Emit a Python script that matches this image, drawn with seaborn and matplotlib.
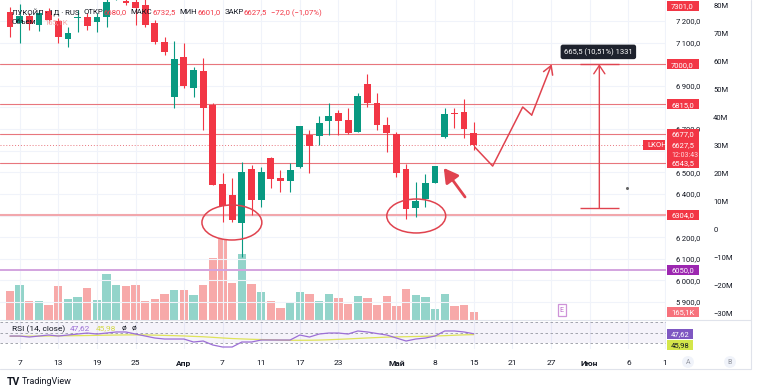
import matplotlib
matplotlib.use("Agg")
import matplotlib.pyplot as plt
from matplotlib.patches import Ellipse, Rectangle
from matplotlib.lines import Line2D
from matplotlib.transforms import IdentityTransform
import numpy as np
import pandas as pd
import seaborn as sns

# daily bars, 6 Mar .. 15 May
opens = [7242, 7191, 7223, 7181.5, 7246, 7200, 7117, 7212, 7218.5, 7195,
         7218.5, 7305, 7292, 7288, 7274, 7191, 7103, 6848.5, 7033.5, 6890,
         6969, 6811.5, 6446, 6395, 6266, 6515.5, 6372, 6566.5, 6474, 6460,
         6525, 6673, 6668, 6737.5, 6774.5, 6742, 6687, 6909, 6821, 6719,
         6677, 6515.5, 6335, 6377, 6451, 6663.5, 6774.5, 6779, 6680]
highs = [7265, 7280, 7237, 7251, 7260, 7214, 7172, 7251, 7237, 7237,
         7300, 7360, 7310, 7305, 7300, 7205, 7126, 7107.5, 7098, 6987,
         7029, 6821, 6497, 6474, 6548, 6534, 6525, 6571, 6511, 6543,
         6714, 6696, 6761, 6821, 6788.5, 6798, 6867, 6955, 6867, 6756,
         6687, 6539, 6455, 6492.5, 6529, 6798, 6798, 6839, 6732.5]
lows = [7126, 7098, 7158, 7154, 7191, 7098, 7080, 7149, 7158, 7149,
        7172, 7299, 7274, 7181.5, 7172, 7094, 7043, 6798, 6890, 6848.5,
        6696, 6441.5, 6270, 6270, 6108, 6303, 6340, 6428, 6409, 6409,
        6520, 6497, 6626.5, 6673, 6673, 6677, 6687, 6802, 6696, 6594,
        6478.5, 6284, 6293, 6340, 6451, 6659, 6705, 6659, 6601]
closes = [7172, 7223, 7186, 7237, 7205, 7126, 7144.5, 7218.5, 7177, 7218.5,
          7288, 7345, 7283, 7260, 7181.5, 7103, 7057, 7024, 6899, 6973,
          6798, 6441.5, 6344, 6280, 6502, 6372, 6502, 6469, 6460, 6511,
          6714, 6622, 6728, 6761, 6737.5, 6682, 6853, 6821, 6719, 6682,
          6497, 6330, 6367.5, 6451, 6529, 6770, 6770, 6699.5, 6627.5]
volumes_k = [609, 735, 399, 399, 315, 714, 441, 483, 672, 420,
             966, 735, 714, 735, 399, 441, 546, 630, 630, 525,
             735, 1302, 1701, 777, 1386, 756, 588, 399, 252, 357,
             588, 546, 399, 546, 462, 336, 504, 462, 315, 504,
             294, 651, 525, 483, 231, 546, 294, 315, 165.1]
rsi_values = [43.3, 43.3, 41.4, 43.3, 45.2, 43.3, 45.2, 47.1, 49.0, 47.1,
              49.0, 51.0, 51.0, 47.1, 43.3, 39.5, 37.6, 37.6, 37.6, 31.9,
              33.8, 26.2, 22.4, 22.4, 31.9, 31.9, 35.7, 35.7, 35.7, 35.7,
              45.2, 41.4, 47.1, 49.0, 49.0, 47.1, 52.9, 51.0, 48.0, 45.2,
              39.5, 33.8, 37.6, 39.5, 43.3, 52.9, 52.9, 51.0, 47.62]
rsi_ma = [43.0, 43.0, 43.0, 43.2, 43.4, 43.6, 43.8, 44.0, 44.3, 44.6,
          44.9, 45.2, 45.4, 45.5, 45.4, 45.0, 44.5, 44.0, 43.4, 42.6,
          41.9, 40.8, 39.6, 38.5, 37.8, 37.1, 36.6, 36.1, 35.6, 35.2,
          35.2, 35.3, 35.6, 36.2, 37.0, 37.8, 38.7, 39.6, 40.4, 41.2,
          41.7, 42.0, 42.4, 42.8, 43.3, 44.0, 44.8, 45.5, 45.98]

date_ticks = [1, 5, 9, 13, 18, 22, 26, 30, 34, 40, 44, 48, 52, 56, 60, 64, 67.8]
date_labels = ['7', '13', '19', '25', 'Апр', '7', '11', '17', '23', 'Май',
               '8', '15', '21', '27', 'Июн', '6', '1']
month_names = ['Апр', 'Май', 'Июн']

levels_red = [7000.0, 6815.0, 6677.0, 6543.5]
level_support = 6304.0
level_purple = 6050.0
range_high = 7301.0
measure_from, measure_to = 6334.5, 7000.0
hidden_price_labels = [7000, 6800, 6600, 6300]

# hand drawn marks (bar index, price)
zigzag_x = [48.1, 49.96, 53.07, 54.0, 56.07]
zigzag_y = [6617, 6529, 6802, 6765, 7000]
circles = [(22.97, 6268, 6.2, 162), (42.05, 6298, 6.1, 157)]
arrow_tail = (47.1, 6386)
arrow_head = (44.9, 6520)
measure_x, measure_cap = 61.0, (58.96, 63.0)

W, H = 758, 392
PLOT_R = 666
RED = '#f23645'
GREEN = '#089981'
DRAW = '#e0434f'
TXT = '#131722'
GRID = '#f0f3fa'

sns.set_theme(style='white')
plt.rcParams['font.family'] = ['Roboto', 'DejaVu Sans']

fig = plt.figure(figsize=(W / 100, H / 100), dpi=100)
fig.patch.set_facecolor('white')
PX = IdentityTransform()
renderer = fig.canvas.get_renderer()


def frac(x0, y0, x1, y1):
    return [x0 / W, 1 - y1 / H, (x1 - x0) / W, (y1 - y0) / H]


def ptext(x, y, s, **kw):
    kw.setdefault('fontsize', 6)
    kw.setdefault('va', 'center_baseline')
    kw.setdefault('zorder', 11)
    return fig.text(x, H - y, s, transform=PX, **kw)


def run_text(x, y, parts, **kw):
    # texts placed one after another, like the legend line of the chart
    for s, color, gap in parts:
        t = ptext(x, y, s, color=color, **kw)
        x = t.get_window_extent(renderer).x1 + gap


def fmt(v):
    return f'{v:.1f}'.replace('.', ',')


idx = np.arange(len(opens))
o, c = np.array(opens), np.array(closes)
up = c >= o

ax = fig.add_axes(frac(0, 0, PLOT_R, 320))
ax_v = ax.twinx()
ax_s = ax.twinx()
ax_s.set_zorder(0)
ax_v.set_zorder(1)
ax.set_zorder(2)
ax.patch.set_visible(False)

# volume
vol_df = pd.DataFrame({'bar': idx, 'vol': volumes_k,
                       'dir': np.where(up, 'up', 'down')})
sns.barplot(data=vol_df, x='bar', y='vol', hue='dir',
            palette={'up': '#93d4ca', 'down': '#f7a9a9'},
            native_scale=True, width=0.86, dodge=False, saturation=1,
            legend=False, errorbar=None, linewidth=0, ax=ax_v)
ax_v.set_ylim(0, 6720)
ax_v.set_yticks([])
ax_v.set_ylabel('')
ax_v.set_xlabel('')

# scale on far right
ax_s.set_ylim(-32.5, 81.8)
s_ticks = np.arange(-30, 81, 10)
ax_s.set_yticks(s_ticks)
ax_s.set_yticklabels(['0' if t == 0 else f'{t}M'.replace('-', '−') for t in s_ticks])
ax_s.tick_params(axis='y', length=0, pad=34, labelsize=5.5, labelcolor=TXT)

# candles
colors = np.where(up, GREEN, RED)
ax.vlines(idx, lows, highs, colors=colors, lw=0.8, zorder=3)
ax.bar(idx, np.maximum(np.abs(c - o), 4), bottom=np.minimum(o, c), width=0.7,
       color=colors, linewidth=0, zorder=4)

ax.set_xlim(-1.03, 67.9)
ax.set_ylim(5817, 7297)
ax.yaxis.tick_right()
p_ticks = np.arange(5900, 7201, 100)
ax.set_yticks(p_ticks)
ax.set_yticklabels(['' if v in hidden_price_labels else
                    f'{v:,.1f}'.replace(',', '\u2009').replace('.', ',') for v in p_ticks])
ax.tick_params(axis='y', length=0, pad=7, labelsize=5.5, labelcolor=TXT)
ax.set_xticks(date_ticks)
ax.tick_params(axis='x', length=0, labelbottom=False)
ax.grid(True, color=GRID, lw=0.8)
ax.set_axisbelow(True)
for a in (ax, ax_v, ax_s):
    for sp in a.spines.values():
        sp.set_visible(False)

# levels
for lv in levels_red:
    ax.axhline(lv, color='#e8767d', lw=0.8, zorder=2)
ax.axhline(level_support, color='#f2a7ac', lw=1.5, zorder=2)
ax.axhline(level_purple, color='#d3a4df', lw=1.4, zorder=2)
ax.axhline(closes[-1], color='#e8767d', lw=0.7, ls=(0, (1, 2)), zorder=2)

# drawings
for cx, cy, w, h in circles:
    ax.add_patch(Ellipse((cx, cy), w, h, fill=False, ec=DRAW, lw=1.1, zorder=6))
ax.plot(zigzag_x[:-1], zigzag_y[:-1], color=DRAW, lw=1.1, zorder=6)
ax.annotate('', xy=(zigzag_x[-1], zigzag_y[-1]), xytext=(zigzag_x[-2], zigzag_y[-2]),
            arrowprops=dict(arrowstyle='->,head_length=0.6,head_width=0.35', color=DRAW,
                            lw=1.1, shrinkA=0, shrinkB=0, mutation_scale=10), zorder=6)
ax.annotate('', xy=arrow_head, xytext=arrow_tail,
            arrowprops=dict(arrowstyle='-|>,head_length=0.7,head_width=0.4', color=DRAW,
                            lw=2.0, shrinkA=0, shrinkB=0, mutation_scale=12), zorder=6)
ax.annotate('', xy=(measure_x, measure_to), xytext=(measure_x, measure_from),
            arrowprops=dict(arrowstyle='->,head_length=0.6,head_width=0.4', color=DRAW,
                            lw=1.0, shrinkA=0, shrinkB=0, mutation_scale=10), zorder=6)
ax.hlines([measure_from, measure_to], *measure_cap, color=DRAW, lw=1.0, zorder=6)
diff = measure_to - measure_from
ax.text(measure_x - 0.1, 7057,
        f'{diff:.1f} ({diff / measure_from * 100:.2f}%) {int(diff * 2)}'.replace('.', ','),
        ha='center', va='center', fontsize=5.5, color='white', zorder=7,
        bbox=dict(boxstyle='round,pad=0.45,rounding_size=0.3', fc='#1e222d', ec='none'))
ax.text(57.1, 5863, 'E', ha='center', va='center', fontsize=5, color='#ba68c8', zorder=7,
        bbox=dict(boxstyle='square,pad=0.3', fc='white', ec='#ce93d8', lw=0.9))
ax.plot([63.9], [6428], marker='o', ms=1.2, color='#666666', zorder=6)

# RSI pane
ax_r = fig.add_axes(frac(0, 320, PLOT_R, 349), sharex=ax)
ax_r.axhspan(30, 70, color='#7e57c2', alpha=0.07, lw=0)
for lvl in (70, 50, 30):
    ax_r.axhline(lvl, color='#9598a1', lw=0.6, ls=(0, (3, 3)))
sns.lineplot(x=idx, y=rsi_ma, color='#dfe35a', lw=0.9, ax=ax_r)
sns.lineplot(x=idx, y=rsi_values, color='#9c6fd6', lw=0.9, ax=ax_r)
ax_r.set_ylim(18.6, 73.8)
ax_r.set_yticks([])
ax_r.set_ylabel('')
ax_r.set_xticks(date_ticks)
ax_r.set_xticklabels(date_labels)
ax_r.tick_params(axis='x', length=0, pad=8, labelsize=6, labelcolor=TXT)
for lab in ax_r.get_xticklabels():
    if lab.get_text() in month_names:
        lab.set_fontweight('bold')
ax_r.grid(True, axis='x', color=GRID, lw=0.8)
for sp in ax_r.spines.values():
    sp.set_visible(False)
ax_r.set_xlim(-1.03, 67.9)


def tag(a, value, text, fc, tc='white', x0=667, w=32, h=10, dy=0, size=5.5):
    y = a.transData.transform((0, value))[1] + dy
    top = a.transAxes.transform((0, 1))[1]
    y = min(y, top - h / 2 - 1)
    fig.add_artist(Rectangle((x0, y - h / 2), w, h, transform=PX, fc=fc, ec='none', zorder=10))
    fig.text(x0 + 4, y, text, transform=PX, fontsize=size, color=tc,
             va='center_baseline', zorder=11)


tag(ax, range_high, fmt(range_high), RED)
for lv in levels_red:
    tag(ax, lv, fmt(lv), RED)
tag(ax, closes[-1], fmt(closes[-1]), RED, h=11, dy=0.5)
tag(ax, closes[-1], '12:03:43', RED, tc='#ffd8dc', dy=-9.5, size=5)
tag(ax, level_support, fmt(level_support), RED)
tag(ax, level_purple, fmt(level_purple), '#9c27b0')
tag(ax, closes[-1], 'LKOH', RED, x0=643, w=22)
tag(ax_v, volumes_k[-1], fmt(volumes_k[-1]) + 'K', '#f7727c')
tag(ax_r, rsi_values[-1], f'{rsi_values[-1]:.2f}'.replace('.', ','), '#7e57c2', w=26)
tag(ax_r, rsi_ma[-1], f'{rsi_ma[-1]:.2f}'.replace('.', ','), '#d4e64a', tc=TXT, w=26, dy=-10.5)

# header
chg = closes[-1] - closes[-2]
chg_txt = f'{fmt(chg)} ({chg / closes[-2] * 100:.2f}%)'.replace('.', ',').replace('-', '−')
run_text(12, 12, [('ЛУКОЙЛ · 1Д · RUS', TXT, 4),
                  ('ОТКР', TXT, 0), (fmt(opens[-1]), RED, 4),
                  ('МАКС', TXT, 0), (fmt(highs[-1]), RED, 4),
                  ('МИН', TXT, 0), (fmt(lows[-1]), RED, 4),
                  ('ЗАКР', TXT, 0), (fmt(closes[-1]), RED, 4),
                  (chg_txt, RED, 0)], fontsize=5.6)
run_text(12, 22, [('Объем', TXT, 8), (fmt(volumes_k[-1]) + 'K', '#f7a6a6', 0)], fontsize=5.6)
run_text(12, 328, [('RSI (14, close)', TXT, 5),
                   (f'{rsi_values[-1]:.2f}'.replace('.', ','), '#9c6fd6', 5),
                   (f'{rsi_ma[-1]:.2f}'.replace('.', ','), '#d4d94a', 6),
                   ('ø', TXT, 5), ('ø', TXT, 0)])

# frame lines and footer
for xs, ys in [([0, 751], [320, 320]), ([0, 751], [369, 369]), ([751, 751], [0, 369])]:
    fig.add_artist(Line2D(xs, [H - y for y in ys], transform=PX, color='#e0e3eb', lw=0.8, zorder=9))
for x, s in [(688, 'A'), (730, 'B')]:
    ptext(x, 361, s, color='#9598a1', fontsize=5, ha='center',
          bbox=dict(boxstyle='circle,pad=0.35', fc='#f0f3fa', ec='none'))
ptext(7, 381, 'TV', color=TXT, fontsize=7.5, fontweight='bold')
ptext(22, 381, 'TradingView', color=TXT, fontsize=6.5)

fig.savefig('out.png', dpi=100, facecolor='white')
